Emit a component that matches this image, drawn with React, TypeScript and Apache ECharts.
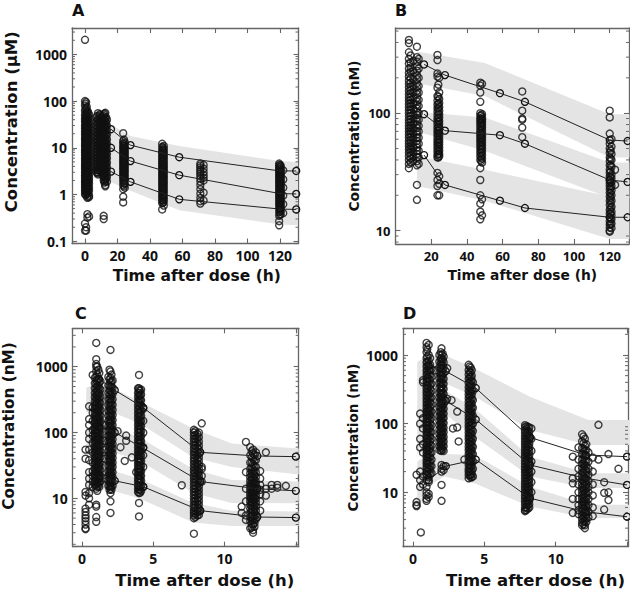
import React, { useEffect, useRef } from 'react';
import * as echarts from 'echarts';

// ================= PANEL A (µM) =================
const A_OBS: [number, number[]][] = [
  [0, [2050, 100, 80, 62, 50, 42, 36, 30, 26, 22, 19, 16, 14, 12, 10.5, 9, 8, 7, 6, 5.2, 4.5, 4, 3.5, 3, 2.6, 2.3, 2, 1.8, 1.6, 1.4, 1.2, 1.05, 0.24, 0.17]],
  [0.3, [88, 66, 52, 43, 37, 31, 27, 23, 20.5, 18, 15.8, 13.8, 12.2, 10.8, 9.5, 8.4, 7.4, 6.5, 5.7, 5, 4.4, 3.9, 3.4, 3, 2.65, 2.35, 2.05, 1.8, 1.55, 1.35, 1.15, 0.98]],
  [0.7, [95, 70, 55, 45, 38, 33, 28, 24, 20, 17.5, 15, 13, 11.5, 10, 8.8, 7.6, 6.6, 5.8, 5, 4.3, 3.8, 3.3, 2.9, 2.5, 2.2, 1.9, 1.7, 1.5, 1.3, 1.15, 1, 0.2, 0.17]],
  [1.1, [75, 58, 47, 40, 34, 29.5, 25.5, 22, 19, 16.5, 14.5, 12.7, 11.2, 9.9, 8.7, 7.7, 6.8, 6, 5.3, 4.7, 4.1, 3.6, 3.2, 2.8, 2.45, 2.15, 1.9, 1.65, 1.45, 1.25, 1.08]],
  [1.5, [60, 48, 40, 34, 29, 25, 21, 18, 15.5, 13.5, 12, 10.5, 9.2, 8, 7, 6.1, 5.3, 4.6, 4, 3.5, 3, 2.6, 2.3, 2, 1.75, 1.5, 1.3, 1.1, 0.9, 0.85, 0.38, 0.32]],
  [1.9, [58, 46, 38, 32, 27, 23, 20, 17.2, 14.8, 12.8, 11, 9.6, 8.4, 7.3, 6.4, 5.6, 4.9, 4.3, 3.7, 3.25, 2.85, 2.5, 2.2, 1.9, 1.65, 1.45, 1.25, 1.05]],
  [2.5, [52, 44, 36, 30, 26, 22, 19, 16, 14, 12, 10, 8.5, 7.2, 6.2, 5.3, 4.5, 3.8, 3.2, 2.7, 2.3, 2, 1.7, 1.4, 1.2, 0.95, 0.88, 0.34]],
  [7, [45, 36, 30, 25, 21, 18, 15, 13, 11, 9.5, 8.2, 7, 6, 5.2, 4.5, 3.9, 3.4, 3]],
  [7.5, [48, 39, 32, 26.5, 22, 18.5, 15.6, 13.3, 11.3, 9.7, 8.3, 7.1, 6.1, 5.2, 4.5, 3.9, 3.3, 2.9]],
  [8, [55, 42, 34, 28, 23, 19.5, 16.5, 14, 12, 10.3, 8.8, 7.5, 6.4, 5.5, 4.7, 4, 3.4, 3, 2.7]],
  [9, [52, 41, 33.5, 27.5, 23, 19.2, 16.2, 13.7, 11.6, 9.9, 8.5, 7.3, 6.2, 5.3, 4.5, 3.8, 3.2]],
  [9.5, [50, 40, 33, 27, 22.5, 19, 16, 13.5, 11.5, 9.8, 8.4, 7.2, 6.2, 5.3, 4.6, 3.9, 3.3]],
  [10, [47, 38, 31, 25.5, 21.2, 17.8, 15, 12.8, 10.9, 9.3, 8, 6.8, 5.8, 5, 4.3, 3.7, 3.1]],
  [10.5, [44, 35, 29, 24, 20, 17, 14.5, 12.4, 10.6, 9, 7.8, 6.6, 5.6, 4.8, 4.1, 3.5]],
  [11, [49, 39, 31.5, 26, 21.5, 18, 15.2, 12.9, 11, 9.4, 8, 6.9, 5.9, 5, 4.3, 3.6, 3, 2.5]],
  [11.5, [52, 41, 33, 27.5, 23, 19.5, 16.5, 14, 12, 10.2, 8.7, 7.4, 6.3, 5.4, 4.6, 3.9, 3.3, 2.8, 2.4, 2, 0.35, 0.3]],
  [12, [54, 42, 34, 27.5, 22.8, 19, 15.8, 13.2, 11.1, 9.3, 7.9, 6.7, 5.7, 4.8, 4.1, 3.5, 2.9, 2.5, 2.1, 1.8]],
  [12.5, [56, 44, 35, 28.5, 23.5, 19.5, 16, 13.2, 11, 9.2, 7.7, 6.4, 5.4, 4.5, 3.8, 3.2, 2.7, 2.3, 1.9, 1.6, 1.5]],
  [13, [45, 36, 29, 23.5, 19, 15.5, 12.7, 10.4, 8.6, 7.1, 5.9, 4.9, 4, 3.3, 2.7, 2.2]],
  [13.5, [40, 30, 24, 19, 15, 12, 9.5, 7.5, 6, 4.8, 3.8, 3, 2.4, 1.9]],
  [23.5, [20.5, 14, 12.5, 11, 9.8, 8.7, 7.8, 7, 6.2, 5.5, 4.9, 4.4, 3.9, 3.5, 3.1, 2.8, 2.5, 2.2, 1.9, 1.6, 1.3, 0.9, 0.68]],
  [24, [15, 12, 10.8, 9.5, 8.4, 7.5, 6.7, 6, 5.3, 4.7, 4.2, 3.7, 3.3, 2.9, 2.6, 2.3, 2, 1.75, 1.5]],
  [24.5, [13, 11.5, 10, 8.9, 8, 7.2, 6.4, 5.7, 5, 4.4, 3.9, 3.4, 3, 2.6, 2.3, 2, 1.7, 1.4]],
  [47.5, [12.2, 10.5, 9, 8, 7.2, 6.4, 5.7, 5.1, 4.6, 4.1, 3.7, 3.3, 2.95, 2.65, 2.35, 2.1, 1.85, 1.65, 1.45, 1.28, 1.12, 0.98, 0.86, 0.75, 0.65, 0.48]],
  [48, [10, 8.8, 7.8, 7, 6.2, 5.5, 4.9, 4.35, 3.9, 3.5, 3.1, 2.8, 2.5, 2.25, 2, 1.78, 1.58, 1.4, 1.24, 1.1, 0.97, 0.85, 0.75, 0.67]],
  [48.5, [11, 9.5, 8.4, 7.5, 6.7, 6, 5.3, 4.7, 4.2, 3.75, 3.35, 3, 2.7, 2.4, 2.15, 1.9, 1.7, 1.5, 1.33, 1.18, 1.03, 0.9, 0.8, 0.7, 0.58]],
  [71, [4.6, 4.2, 3.8, 3.4, 3.1, 2.8, 2.5, 2.2, 1.9, 1.6, 1.3, 1.05, 0.85, 0.72, 0.64]],
  [73, [4.3, 3.6, 3, 2.6, 2.3, 2, 1.1, 0.75]],
  [119.5, [4.6, 4.2, 3.8, 3.5, 3.2, 2.9, 2.6, 2.35, 2.1, 1.9, 1.7, 1.5, 1.35, 1.2, 1.08, 0.96, 0.85, 0.75, 0.66, 0.58, 0.5, 0.42, 0.35, 0.27, 0.22]],
  [120, [4.3, 3.9, 3.5, 3.1, 2.75, 2.45, 2.2, 1.98, 1.78, 1.6, 1.43, 1.28, 1.14, 1.02, 0.91, 0.81, 0.72, 0.64, 0.56, 0.49, 0.43, 0.37]],
  [120.5, [4.1, 3.6, 3.2, 2.8, 2.5, 2.2, 1.95, 1.75, 1.55, 1.38, 1.22, 1.1, 0.98, 0.87, 0.77, 0.68, 0.6, 0.52, 0.45, 0.38]],
  [122, [3.3, 2.1, 1.4, 0.95, 0.62, 0.4]],
];
const A_LINE_T = [16, 28, 58, 120, 130];
const A_P95 = [25, 11.4, 6.3, 3.2, 3.2];
const A_P50 = [10, 5.2, 2.6, 1.05, 1.03];
const A_P5 = [3.1, 1.87, 0.79, 0.49, 0.48];
const A_BAND_T = [15, 28, 58, 120, 131];
const A_UP_LO = [14, 7, 3.8, 1.8, 1.8];
const A_UP_HI = [33, 18, 11, 5.2, 5];
const A_MID_LO = [4.5, 3, 1.4, 0.6, 0.6];
const A_MID_HI = [15, 8, 4, 1.9, 1.9];
const A_LOW_LO = [1.9, 1.2, 0.46, 0.23, 0.22];
const A_LOW_HI = [5, 3.2, 1.5, 0.7, 0.7];
const A_XTICKS = [0, 20, 40, 60, 80, 100, 120];
const A_YTICKS = [0.1, 1, 10, 100, 1000];

// ================= PANEL B (nM) =================
const B_OBS: [number, number[]][] = [
  [7.5, [420, 395, 330, 290, 265, 240, 220, 205, 190, 178, 166, 155, 145, 136, 128, 120, 113, 106, 100, 94, 88, 83, 78, 74, 70, 66, 62, 58, 55, 52, 49, 46, 43, 40, 37, 34]],
  [8.5, [310, 270, 245, 225, 200, 182, 170, 158, 148, 138, 130, 122, 115, 108, 101, 95, 89, 84, 79, 75, 71, 67, 63, 59, 56, 53, 50, 47, 44, 41, 38]],
  [10, [280, 230, 195, 170, 150, 134, 120, 108, 98, 89, 81, 74, 67.5, 61.5, 56, 51, 46.5, 42.5, 39]],
  [12, [368, 300, 275, 250, 230, 210, 195, 180, 167, 155, 145, 135, 126, 118, 110, 103, 97, 91, 85, 80, 75, 70, 66, 62, 58, 54, 51, 48, 45, 42, 39, 36, 24.5, 18.3]],
  [13, [290, 240, 200, 170, 150, 130, 115, 100, 88, 78, 70, 62, 55, 48, 42, 37]],
  [23.5, [313, 283, 218, 205, 165, 140, 128, 118, 110, 103, 96, 90, 85, 80, 75, 71, 67, 63, 59, 56, 53, 50, 47, 44, 42, 31, 27, 24, 20]],
  [24, [175, 138, 120, 110, 100, 91, 84, 77, 71, 65.5, 60.5, 56, 52, 48, 45, 42]],
  [24.5, [200, 150, 132, 122, 113, 105, 98, 92, 86, 81, 76, 72, 68, 64, 60, 57, 54, 51, 48, 45, 43, 29, 25, 20]],
  [47.5, [182, 172, 150, 125, 100, 95, 90, 86, 82, 78, 74, 70, 67, 64, 61, 58, 55, 52, 49, 46, 43, 40, 34, 27, 20, 17, 14.5, 12.5]],
  [48, [96, 89, 83, 77, 71, 66, 61.5, 57, 53, 49, 45.5, 42, 39]],
  [48.5, [178, 98, 92, 88, 84, 80, 76, 72, 68, 65, 62, 59, 56, 53, 50, 47, 44, 41, 38, 18.5, 13.5]],
  [71, [153, 105, 90, 88, 75.5, 62.5]],
  [120, [105, 92, 67, 55, 50, 46, 42, 39, 36, 33, 31, 29, 27, 25.5, 24, 22.5, 21, 19.5, 18, 16.5, 15, 14, 13, 12, 11.3, 10.6, 10, 9.8]],
  [120.5, [48, 41, 36, 32, 28.5, 25.8, 23.3, 21, 19, 17.2, 15.5, 14, 12.6, 11.4]],
  [121, [60, 52, 45, 40, 35, 30, 28, 26, 24, 22, 20, 18, 16, 14.5, 13.5, 12.5, 11.5, 10.5]],
  [123, [33, 24.5]],
];
const B_LINE_T = [16, 27.7, 58.5, 72.5, 120, 130];
const B_P95 = [260, 211, 148, 125, 59, 58];
const B_P50 = [98, 71, 65, 55, 27, 26];
const B_P5 = [44, 24.5, 18, 15.6, 13, 13];
const B_BAND_T = [12, 50, 120, 131];
const B_UP_LO = [180, 140, 42, 42];
const B_UP_HI = [335, 268, 98, 98];
const B_MID_LO = [70, 48, 19, 19];
const B_MID_HI = [103, 92, 38, 38];
const B_LOW_LO = [24, 18, 8.5, 8.5];
const B_LOW_HI = [43, 33, 19.5, 19.5];
const B_XTICKS = [20, 40, 60, 80, 100, 120];
const B_YTICKS = [10, 100];

// ================= PANEL C (nM) =================
const C_OBS: [number, number[]][] = [
  [0.25, [55, 40, 12.5, 11, 7, 6.2, 5.5, 5, 4.5, 4, 3.5, 3.4]],
  [0.5, [250, 160, 130, 100, 80, 55, 38, 25, 20, 16, 12, 10, 8]],
  [0.75, [750, 240, 200, 150, 110, 90, 70, 50, 35, 26, 22, 18, 15]],
  [0.9, [680, 560, 470, 400, 345, 300, 262, 230, 202, 178, 157, 139, 123, 109, 97, 86, 76, 68, 60, 53, 47, 42, 37, 33, 29, 26, 23, 20.5, 18, 16]],
  [1, [2300, 1300, 1100, 1000, 850, 700, 620, 550, 480, 420, 370, 330, 290, 260, 230, 200, 180, 160, 140, 125, 110, 98, 88, 78, 70, 62, 55, 49, 44, 39, 35, 31, 28, 25, 22, 20, 18, 16, 14, 8, 7.5, 5.2, 4.4]],
  [1.07, [1000, 760, 600, 500, 425, 365, 315, 275, 240, 210, 184, 162, 143, 126, 111, 98, 87, 77, 68, 60, 53, 47, 41.5, 36.5, 32, 28.5, 25, 22, 19.5, 17, 15, 13]],
  [1.15, [900, 640, 520, 440, 380, 330, 290, 255, 225, 200, 175, 155, 138, 122, 108, 96, 85, 76, 68, 60, 53, 47, 42, 37, 33, 29, 26, 23, 20, 17.5, 15.5]],
  [1.22, [800, 580, 470, 395, 335, 287, 247, 213, 184, 160, 139, 121, 105, 92, 80, 70, 61, 53, 46, 40, 35, 30.5, 26.5, 23, 20, 17.5, 15]],
  [1.3, [600, 450, 350, 280, 220, 180, 145, 118, 95, 78, 64, 52, 42, 34, 27, 22, 18]],
  [1.6, [130, 75, 55, 40, 20]],
  [1.85, [700, 520, 400, 320, 260, 215, 180, 150, 125, 105, 88, 74, 62, 52, 44, 37, 31, 26, 22, 18.5, 15.5]],
  [1.93, [900, 640, 520, 440, 375, 322, 278, 241, 209, 182, 158, 138, 120, 105, 92, 80, 70, 61, 53, 46.5, 40.5, 35.5, 31, 27, 23.5, 20.5, 18, 15.5, 13.5]],
  [2, [1800, 850, 680, 580, 500, 430, 375, 330, 290, 255, 225, 200, 178, 158, 140, 125, 111, 99, 88, 78, 70, 62, 55, 49, 44, 39, 35, 31, 27.5, 24.5, 22, 19.5, 17, 15, 14, 12, 9, 6]],
  [2.07, [760, 600, 500, 420, 358, 306, 263, 227, 196, 170, 148, 129, 112, 98, 85, 74, 65, 57, 50, 43.5, 38, 33, 29, 25.5, 22.5, 19.8, 17.5, 15.3, 13.5]],
  [2.15, [620, 480, 390, 320, 265, 220, 185, 155, 130, 110, 93, 79, 67, 57, 48, 41, 35, 30, 25, 21, 18, 15.5]],
  [2.5, [105]],
  [2.7, [60]],
  [3, [37]],
  [3.1, [90, 75]],
  [3.5, [42]],
  [3.8, [25]],
  [3.93, [470, 400, 345, 298, 258, 224, 195, 170, 148, 129, 113, 99, 87, 76, 67, 59, 52, 46, 40.5, 36, 32, 28.5, 25.5, 22.5, 20, 17.8, 15.8, 14, 12.5]],
  [4, [750, 470, 440, 400, 360, 320, 285, 255, 225, 200, 178, 158, 140, 125, 111, 99, 88, 78, 70, 62, 55, 49, 44, 39, 35, 31, 27.5, 24.5, 22, 19.5, 17, 15, 13.5, 12, 8.5, 5.3]],
  [4.08, [430, 365, 312, 268, 231, 200, 173, 150, 131, 114, 100, 87, 76, 67, 59, 52, 45.5, 40, 35.5, 31.5, 28, 25, 22, 19.5, 17.3, 15.4, 13.7, 12.2]],
  [4.15, [450, 380, 310, 260, 215, 180, 150, 125, 105, 88, 74, 62, 52, 44, 37, 31, 26, 22, 18.5, 15.5, 13]],
  [4.3, [230, 150, 100, 60, 45, 30, 15]],
  [7, [15.8]],
  [7.85, [110, 100, 90, 80, 72, 64, 57, 51, 46, 41, 37, 33, 29.5, 26.5, 24, 21.5, 19.5, 17.5, 15.7, 14, 12.5, 11.2, 10, 9, 8, 7.2, 6.5, 6, 5.5, 5, 2.9]],
  [7.95, [105, 92, 81, 71, 63, 56, 49.5, 44, 39, 35, 31, 27.7, 24.7, 22, 19.7, 17.6, 15.7, 14, 12.5, 11.2, 10, 9, 8, 7.2, 6.5, 5.8, 5.2]],
  [8.1, [95, 82, 70, 60, 52, 45, 39, 34, 30, 26.5, 23.5, 21, 18.5, 16.5, 14.5, 13, 11.5, 10, 9, 8, 7, 6.2, 5.5]],
  [8.2, [100, 85, 73, 63, 55, 48, 42, 37, 32.5, 28.5, 25, 22, 19.5, 17.2, 15.2, 13.4, 11.8, 10.4, 9.2, 8.1, 7.1, 6.3, 5.6]],
  [8.4, [138, 30, 28, 22, 18]],
  [11.2, [7.5, 6]],
  [11.5, [72, 25, 14, 9, 5.5, 4.7]],
  [11.8, [60, 45, 35, 28, 24, 21, 18.5, 16.5, 15, 13.5, 12.2, 11, 10, 9, 8, 7, 6, 5.2, 4.5, 3.5]],
  [11.9, [52, 42, 35, 29.5, 25, 21.5, 18.7, 16.3, 14.3, 12.6, 11.1, 9.8, 8.7, 7.7, 6.8, 6, 5.3, 4.7, 4.1, 3.6]],
  [12, [55, 48, 40, 33, 28, 24, 21, 19, 17, 15.5, 14, 12.8, 11.6, 10.5, 9.5, 8.5, 7.5, 6.5, 5.5, 4.8, 4, 3.3, 3]],
  [12.1, [46, 37, 31, 26, 22.2, 19.2, 16.7, 14.6, 12.8, 11.3, 10, 8.8, 7.8, 6.9, 6.1, 5.4, 4.8, 4.2, 3.7]],
  [12.2, [50, 38, 30, 25, 21, 18, 16, 14, 12.5, 11, 9.8, 8.6, 7.5, 6.5, 5.6, 4.8]],
  [12.5, [26, 20, 16, 13.5, 11.5, 9, 6.5]],
  [12.9, [50, 14, 11]],
  [13.3, [14, 16]],
  [13.7, [16, 14.5]],
  [14.3, [15.5]],
];
const C_LINE_T = [1.2, 2.3, 4.3, 8.3, 12.3, 15];
const C_P95 = [650, 440, 240, 50, 44, 43];
const C_P50 = [120, 100, 58, 18, 14, 13];
const C_P5 = [21, 18.5, 15, 6.5, 5.2, 5.1];
const C_BAND_T = [0.3, 1, 2.2, 4, 7.8, 10.5, 15.2];
const C_UP_LO = [200, 240, 200, 140, 42, 30, 23];
const C_UP_HI = [480, 560, 470, 300, 115, 68, 57];
const C_MID_LO = [40, 55, 50, 38, 12, 8.5, 8.4];
const C_MID_HI = [110, 140, 120, 85, 28, 19, 18];
const C_LOW_LO = [10, 14, 13, 10, 4.3, 3.8, 3.8];
const C_LOW_HI = [25, 30, 26, 20, 8.5, 6.5, 6.3];
const C_XTICKS = [0, 5, 10];
const C_YTICKS = [10, 100, 1000];

// ================= PANEL D (nM) =================
const D_OBS: [number, number[]][] = [
  [0.25, [18, 7.2, 6.5, 6.3]],
  [0.55, [2.6]],
  [0.5, [140, 100, 60, 45, 20, 15, 12]],
  [0.7, [430, 400, 120, 85, 50, 38, 17, 13]],
  [0.95, [1500, 1300, 1100, 900, 780, 680, 590, 520, 460, 410, 365, 325, 290, 260, 232, 207, 185, 165, 148, 132, 118, 105, 94, 84, 75, 67, 60, 53, 47, 42, 37, 33, 29, 26, 23, 20, 18, 15, 12, 10, 9, 8, 7.5]],
  [1, [1200, 950, 800, 690, 600, 525, 460, 405, 357, 315, 279, 247, 219, 194, 172, 153, 136, 121, 108, 96, 86, 77, 69, 62, 55, 49, 44, 39.5, 35.5, 32, 28.5, 25.5, 22.5, 20, 17.5]],
  [1.1, [1400, 1000, 820, 700, 600, 520, 450, 390, 340, 300, 265, 235, 208, 185, 164, 146, 130, 116, 103, 92, 82, 73, 65, 58, 52, 46, 41, 36, 32, 28, 25, 22, 19, 16.5, 14, 9.5, 8.5]],
  [1.2, [900, 720, 600, 510, 435, 372, 320, 276, 238, 205, 177, 153, 132, 114, 99, 86, 75, 65, 56, 49, 43, 37.5, 32.5, 28, 24.5, 21.5, 18.5]],
  [1.3, [620, 480, 380, 300, 240, 190, 150, 120, 95, 75, 60, 48, 38, 30, 24, 19]],
  [1.6, [600]],
  [1.85, [1000, 800, 660, 550, 460, 390, 330, 280, 240, 205, 175, 150, 128, 110, 95, 82, 71, 62, 54, 47, 41]],
  [1.95, [1100, 880, 740, 630, 540, 465, 402, 348, 302, 262, 228, 198, 172, 150, 131, 114, 100, 87, 76, 67, 59, 52, 46, 41]],
  [2, [1250, 1000, 900, 800, 710, 630, 560, 500, 445, 395, 350, 310, 275, 245, 218, 194, 172, 153, 136, 121, 108, 96, 86, 77, 69, 62, 55, 49, 44, 40, 25, 22, 20, 12.8, 7.5]],
  [2.08, [1050, 850, 720, 610, 520, 445, 382, 328, 283, 244, 211, 183, 159, 138, 120, 104, 91, 80, 70, 61, 54, 47.5, 42]],
  [2.15, [950, 780, 650, 540, 450, 380, 320, 270, 230, 195, 165, 140, 120, 102, 87, 75, 64, 55, 47, 40, 24, 21]],
  [2.4, [640, 230]],
  [2.7, [220]],
  [2.8, [85]],
  [3.1, [150, 88]],
  [3.2, [55]],
  [3.6, [30]],
  [3.9, [720, 600, 520, 450, 390, 340, 300, 265, 235, 208, 185, 165, 147, 131, 117, 104, 93, 83, 74, 66, 59, 52, 46, 41, 36, 32, 28, 25, 22, 20, 18, 16]],
  [3.97, [680, 560, 470, 400, 342, 293, 252, 217, 188, 163, 142, 124, 108, 94, 82, 72, 63, 55, 48.5, 42.5, 37.5, 33, 29, 25.5, 22.5, 20, 17.5]],
  [4.05, [650, 560, 480, 410, 350, 300, 258, 222, 192, 166, 144, 125, 109, 95, 83, 72, 63, 55, 48, 42, 37, 32, 28, 24, 21, 18, 16.5]],
  [4.12, [600, 500, 425, 362, 310, 266, 229, 197, 170, 147, 127, 110, 95, 82, 71, 62, 54, 47, 41, 36, 31.5, 27.5, 24, 21, 18.5, 16.5]],
  [4.2, [400, 300, 220, 170, 130, 100, 78, 60, 46, 36, 28, 22, 17]],
  [7.85, [95, 88, 80, 73, 66, 60, 55, 50, 45.5, 41.5, 38, 34.5, 31.5, 28.5, 26, 23.5, 21.5, 19.5, 17.7, 16, 14.5, 13.2, 12, 11, 10, 9, 8.2, 7.4, 6.7, 6, 5.5, 5.3]],
  [7.95, [92, 83, 75, 68, 61.5, 55.5, 50, 45, 40.5, 36.5, 33, 29.8, 27, 24.4, 22, 19.8, 17.8, 16, 14.4, 13, 11.7, 10.5, 9.4, 8.4, 7.5, 6.7, 6, 5.5]],
  [8.05, [90, 78, 68, 60, 53, 47, 42, 37, 33, 29.5, 26.5, 23.5, 21, 18.8, 16.8, 15, 13.4, 12, 10.7, 9.5, 8.5, 7.5, 6.6, 5.8]],
  [8.15, [88, 76, 66, 58, 51, 45, 39.5, 35, 31, 27.5, 24.5, 21.8, 19.4, 17.3, 15.4, 13.7, 12.2, 10.9, 9.7, 8.6, 7.6, 6.7, 6]],
  [8.3, [85, 60, 40, 28, 20, 14, 10]],
  [11.2, [33, 16, 13.5, 8, 5]],
  [11.6, [45, 30, 22, 17, 13, 10, 8, 6.5, 5.5, 4.8]],
  [11.85, [70, 55, 44, 36, 30, 26, 22.5, 19.5, 17, 15, 13.2, 11.7, 10.4, 9.2, 8.2, 7.3, 6.5, 5.8, 5.2, 4.6, 4.1, 3.6, 3.3]],
  [11.95, [65, 52, 43, 36, 30.5, 26, 22.3, 19.2, 16.6, 14.4, 12.5, 10.9, 9.5, 8.3, 7.3, 6.4, 5.6, 4.9, 4.3, 3.8, 3.4]],
  [12.05, [60, 48, 40, 34, 29, 25, 21.5, 18.5, 16, 14, 12.3, 10.8, 9.5, 8.4, 7.4, 6.5, 5.7, 5, 4.4, 3.8, 3.3, 3]],
  [12.15, [50, 41, 34, 28.5, 24.2, 20.6, 17.6, 15.1, 13, 11.2, 9.7, 8.4, 7.3, 6.3, 5.5, 4.8, 4.2, 3.7]],
  [12.3, [38, 28, 22, 18, 14.5, 12, 10, 8, 6.5, 5.2, 4.3]],
  [12.6, [32, 20, 13, 9, 6, 4.5]],
  [13, [96, 30]],
  [13.4, [14, 9.8, 5.6]],
  [13.7, [36, 10, 7.7]],
  [14.4, [22]],
];
const D_LINE_T = [1.1, 2.3, 4.4, 8.2, 12.1, 15];
const D_P95 = [700, 580, 330, 63, 35, 33];
const D_P50 = [160, 215, 115, 25, 16, 12.8];
const D_P5 = [15, 24, 30, 8.2, 5.2, 4.4];
const D_BAND_T = [0.3, 1, 2.2, 4.3, 8.2, 12.3, 15.2];
const D_UP_LO = [150, 300, 390, 250, 81, 49, 49];
const D_UP_HI = [800, 950, 1000, 640, 247, 113, 113];
const D_MID_LO = [35, 100, 140, 65, 17, 11.5, 11.5];
const D_MID_HI = [180, 300, 310, 168, 33, 19, 19];
const D_LOW_LO = [5, 12, 17, 13.5, 6.2, 4.2, 4.2];
const D_LOW_HI = [28, 35, 36, 35, 12, 6.6, 6.6];
const D_XTICKS = [0, 5, 10];
const D_YTICKS = [10, 100, 1000];

const X_TITLE = 'Time after dose (h)';
const MINOR_MULT = [2, 3, 4, 5, 6, 7, 8, 9];

// ================= layout / style =================
const TICK_FONT = "'Open Sans', 'DejaVu Sans', sans-serif";
const TITLE_FONT = "'DejaVu Sans', 'Open Sans', sans-serif";
const FRAME = '#666';
const BAND = '#e4e4e4';
const INK = '#111';

const PANELS = [
  {
    letter: 'A', unit: 'μM', obs: A_OBS, lineT: A_LINE_T, lines: [A_P95, A_P50, A_P5],
    bandT: A_BAND_T, bands: [[A_UP_LO, A_UP_HI], [A_MID_LO, A_MID_HI], [A_LOW_LO, A_LOW_HI]],
    xTicks: A_XTICKS, yTicks: A_YTICKS, step: 20,
    xMin: -8, xMax: 131.4, yMin: 0.0897, yMax: 3660,
    grid: { left: 72, top: 28, width: 226.5, height: 215.5 },
    tickFont: 14, xNameFont: 15.5, yNameFont: 16.5, xNameGap: 24, yNameGap: 52, xPad: 23, yPad: 28,
    letterPos: [72, 2],
  },
  {
    letter: 'B', unit: 'nM', obs: B_OBS, lineT: B_LINE_T, lines: [B_P95, B_P50, B_P5],
    bandT: B_BAND_T, bands: [[B_UP_LO, B_UP_HI], [B_MID_LO, B_MID_HI], [B_LOW_LO, B_LOW_HI]],
    xTicks: B_XTICKS, yTicks: B_YTICKS, step: 20,
    xMin: 0, xMax: 130.8, yMin: 7.7, yMax: 531,
    grid: { left: 395.5, top: 28, width: 233.5, height: 216 },
    tickFont: 13, xNameFont: 13.8, yNameFont: 13.8, xNameGap: 24, yNameGap: 35, xPad: 20, yPad: 0,
    letterPos: [395, 2],
  },
  {
    letter: 'C', unit: 'nM', obs: C_OBS, lineT: C_LINE_T, lines: [C_P95, C_P50, C_P5],
    bandT: C_BAND_T, bands: [[C_UP_LO, C_UP_HI], [C_MID_LO, C_MID_HI], [C_LOW_LO, C_LOW_HI]],
    xTicks: C_XTICKS, yTicks: C_YTICKS, step: 5,
    xMin: -0.65, xMax: 15.2, yMin: 1.84, yMax: 3840,
    grid: { left: 72.7, top: 328.3, width: 226, height: 218.4 },
    tickFont: 14, xNameFont: 16.5, yNameFont: 15.3, xNameGap: 25, yNameGap: 56, xPad: 38, yPad: 23,
    letterPos: [75, 305],
  },
  {
    letter: 'D', unit: 'nM', obs: D_OBS, lineT: D_LINE_T, lines: [D_P95, D_P50, D_P5],
    bandT: D_BAND_T, bands: [[D_UP_LO, D_UP_HI], [D_MID_LO, D_MID_HI], [D_LOW_LO, D_LOW_HI]],
    xTicks: D_XTICKS, yTicks: D_YTICKS, step: 5,
    xMin: -0.7, xMax: 15.07, yMin: 1.61, yMax: 2450,
    grid: { left: 403, top: 328.3, width: 225, height: 218.4 },
    tickFont: 14, xNameFont: 16.5, yNameFont: 13.5, xNameGap: 25, yNameGap: 43, xPad: 40, yPad: 0,
    letterPos: [403, 305],
  },
];

function buildOption() {
  const grid: any[] = [];
  const xAxis: any[] = [];
  const yAxis: any[] = [];
  const series: any[] = [];
  const graphic: any[] = [];

  PANELS.forEach((p, i) => {
    grid.push({ ...p.grid, outerBoundsMode: 'none', containLabel: false });
    const xFmt = (v: number) => (p.xTicks.some((t) => Math.abs(t - v) < 1e-6) ? String(v) : '');
    const yFmt = (v: number) => {
      const m = p.yTicks.find((t) => Math.abs(t - v) / t < 1e-4);
      return m !== undefined ? String(m) : '';
    };
    const common = {
      axisLine: { show: true, onZero: false, lineStyle: { color: FRAME, width: 1.3 } },
      axisTick: { show: true, inside: true, length: 5, lineStyle: { color: FRAME, width: 1.1 } },
      splitLine: { show: false },
    };
    xAxis.push({
      type: 'value', gridIndex: i, position: 'bottom', min: p.xMin, max: p.xMax,
      minInterval: p.step, maxInterval: p.step, splitNumber: 6,
      ...common,
      axisLabel: { formatter: xFmt, color: INK, fontFamily: TICK_FONT, fontWeight: 'bold', fontSize: p.tickFont, margin: 5 },
      name: X_TITLE, nameLocation: 'middle', nameGap: p.xNameGap,
      nameTextStyle: { color: INK, fontFamily: TITLE_FONT, fontWeight: 'bold', fontSize: p.xNameFont, padding: [0, 0, 0, p.xPad] },
    });
    xAxis.push({
      type: 'value', gridIndex: i, position: 'top', min: p.xMin, max: p.xMax,
      minInterval: p.step, maxInterval: p.step, splitNumber: 6,
      ...common, axisLabel: { show: false },
    });
    yAxis.push({
      type: 'log', logBase: 10, gridIndex: i, position: 'left', min: p.yMin, max: p.yMax,
      ...common,
      axisLabel: { formatter: yFmt, color: INK, fontFamily: TICK_FONT, fontWeight: 'bold', fontSize: p.tickFont, margin: 5 },
      name: 'Concentration (' + p.unit + ')', nameLocation: 'middle', nameGap: p.yNameGap,
      nameTextStyle: { color: INK, fontFamily: TITLE_FONT, fontWeight: 'bold', fontSize: p.yNameFont, padding: [0, 0, 0, p.yPad] },
    });
    yAxis.push({
      type: 'log', logBase: 10, gridIndex: i, position: 'right', min: p.yMin, max: p.yMax,
      ...common, axisLabel: { show: false },
    });

    const xi = i * 2;
    // prediction interval bands
    p.bands.forEach(([lo, hi]) => {
      series.push({
        type: 'custom', xAxisIndex: xi, yAxisIndex: xi, silent: true, z: 1,
        data: p.bandT.map((t, k) => [t, lo[k], hi[k]]),
        encode: { x: 0, y: [1, 2] },
        renderItem: (params: any, api: any) => {
          if (params.dataIndex !== 0) return { type: 'group', children: [] };
          const top = p.bandT.map((t, k) => api.coord([t, hi[k]]));
          const bot = p.bandT.map((t, k) => api.coord([t, lo[k]])).reverse();
          return { type: 'polygon', shape: { points: top.concat(bot) }, style: { fill: BAND } };
        },
      });
    });

    // minor log ticks (left and right, inside)
    const minors: number[] = [];
    for (let e = Math.floor(Math.log10(p.yMin)); e <= Math.ceil(Math.log10(p.yMax)); e++) {
      MINOR_MULT.forEach((m) => {
        const v = m * Math.pow(10, e);
        if (v > p.yMin && v < p.yMax) minors.push(v);
      });
    }
    series.push({
      type: 'custom', xAxisIndex: xi, yAxisIndex: xi, silent: true, z: 3,
      data: minors.map((v) => [p.xMin, v]),
      encode: { x: 0, y: 1 },
      renderItem: (params: any, api: any) => {
        const v = api.value(1);
        const a = api.coord([p.xMin, v]);
        const b = api.coord([p.xMax, v]);
        return {
          type: 'group',
          children: [
            { type: 'line', shape: { x1: a[0], y1: a[1], x2: a[0] + 3, y2: a[1] }, style: { stroke: FRAME, lineWidth: 1 } },
            { type: 'line', shape: { x1: b[0] - 3, y1: b[1], x2: b[0], y2: b[1] }, style: { stroke: FRAME, lineWidth: 1 } },
          ],
        };
      },
    });

    // observations
    const pts: number[][] = [];
    p.obs.forEach(([t, vals]) => vals.forEach((v) => pts.push([t, v])));
    series.push({
      type: 'scatter', xAxisIndex: xi, yAxisIndex: xi, silent: true, z: 2,
      symbol: 'circle', symbolSize: 7, data: pts,
      itemStyle: { color: 'rgba(0,0,0,0)', borderColor: INK, borderWidth: 1.4 },
    });

    // observed percentiles
    p.lines.forEach((vals) => {
      series.push({
        type: 'line', xAxisIndex: xi, yAxisIndex: xi, silent: true, z: 4,
        data: p.lineT.map((t, k) => [t, vals[k]]),
        symbol: 'circle', symbolSize: 7, showSymbol: true,
        lineStyle: { color: '#222', width: 1 },
        itemStyle: { color: 'rgba(0,0,0,0)', borderColor: INK, borderWidth: 1.3 },
      });
    });

    graphic.push({
      type: 'text', left: p.letterPos[0], top: p.letterPos[1],
      style: { text: p.letter, font: 'bold 16px ' + TITLE_FONT, fill: INK },
    });
  });

  return { animation: false, backgroundColor: '#fff', grid, xAxis, yAxis, series, graphic };
}

export default function App() {
  const ref = useRef<HTMLDivElement>(null);
  useEffect(() => {
    if (!ref.current) return;
    const chart = echarts.init(ref.current, null, { renderer: 'svg' });
    chart.setOption(buildOption() as any);
    return () => chart.dispose();
  }, []);
  return <div ref={ref} style={{ position: 'fixed', left: 0, top: 0, width: 630, height: 590 }} />;
}
